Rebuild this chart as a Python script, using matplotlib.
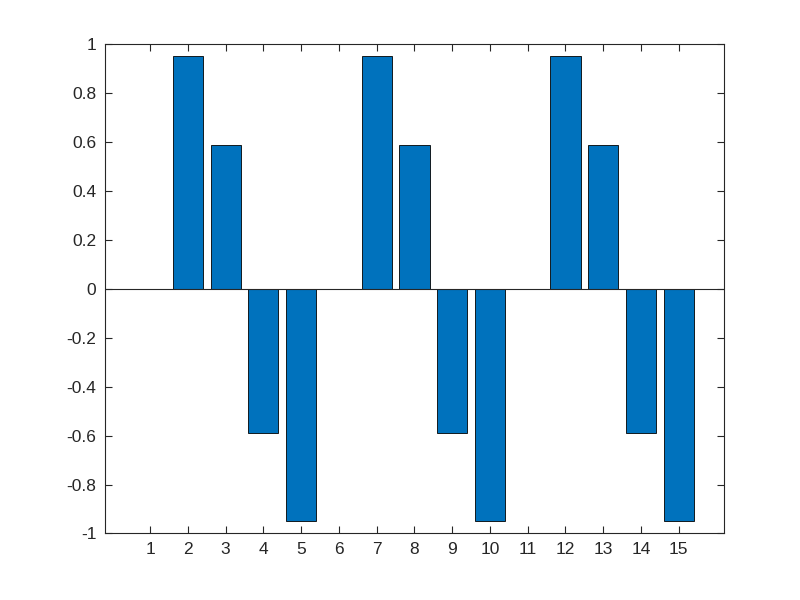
import matplotlib
matplotlib.use("Agg")
import matplotlib.pyplot as plt

categories = list(range(1, 16))
values = [0.0, 0.951, 0.588, -0.588, -0.951,
          0.0, 0.951, 0.588, -0.588, -0.951,
          0.0, 0.951, 0.588, -0.588, -0.951]
ytick_values = [-1, -0.8, -0.6, -0.4, -0.2, 0, 0.2, 0.4, 0.6, 0.8, 1]
ytick_labels = ["-1", "-0.8", "-0.6", "-0.4", "-0.2", "0", "0.2", "0.4", "0.6", "0.8", "1"]

plt.rcParams['font.family'] = ['Liberation Sans', 'DejaVu Sans']
axcol = '#262626'

fig = plt.figure(figsize=(8, 6), dpi=100)
ax = fig.add_axes([0.131, 0.111, 0.774, 0.815])
ax.bar(categories, values, width=0.8, color='#0072BD', edgecolor='black', linewidth=0.6, zorder=2)
ax.axhline(0, color=axcol, linewidth=0.8, zorder=3)
ax.set_xlim(-0.2, 16.2)
ax.set_ylim(-1, 1)
ax.set_xticks(categories)
ax.set_xticklabels([str(c) for c in categories])
ax.set_yticks(ytick_values)
ax.set_yticklabels(ytick_labels)
ax.tick_params(direction='in', top=True, right=True, length=5, width=0.8,
               colors=axcol, labelsize=12.5, labelcolor=axcol, pad=6)
for s in ax.spines.values():
    s.set_color(axcol)
    s.set_linewidth(0.8)
fig.savefig('out.png', dpi=100)
